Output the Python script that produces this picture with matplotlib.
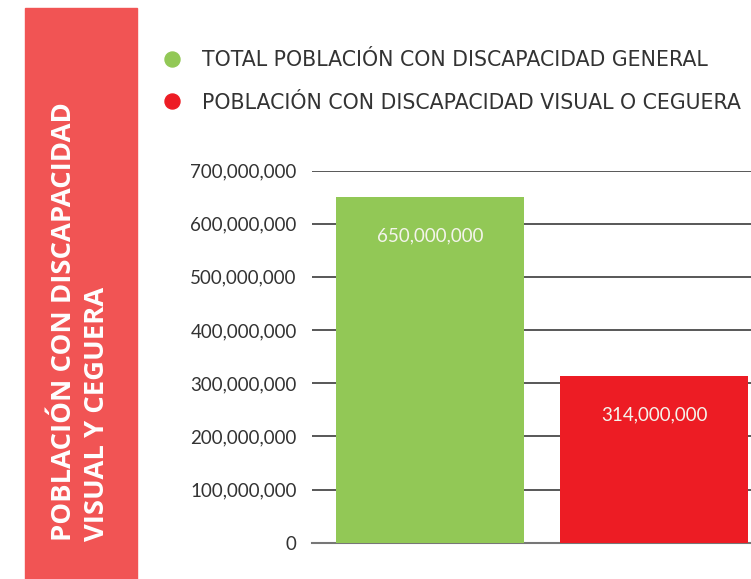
import matplotlib
matplotlib.use("Agg")
import matplotlib.pyplot as plt
from matplotlib.patches import Rectangle
from matplotlib.lines import Line2D

# datos
categorias = ["TOTAL POBLACIÓN CON DISCAPACIDAD GENERAL",
              "POBLACIÓN CON DISCAPACIDAD VISUAL O CEGUERA"]
valores = [650000000, 314000000]
colores = ["#92C856", "#ED1C24"]
titulo = "POBLACIÓN CON DISCAPACIDAD\nVISUAL Y CEGUERA"
ticks = [0, 100000000, 200000000, 300000000, 400000000,
         500000000, 600000000, 700000000]

plt.rcParams['font.family'] = ['Lato', 'DejaVu Sans']

W, H = 751, 579
fig = plt.figure(figsize=(W / 100, H / 100), dpi=100)

# bloque rojo con el título
fig.patches.append(Rectangle((25 / W, 0), 112 / W, 1 - 8 / H,
                             transform=fig.transFigure, color="#F15454", zorder=0))
fig.text(81 / W, 1 - 541 / H, titulo, rotation=90, color="white",
         family=["Open Sans", "DejaVu Sans"], fontsize=19.7, fontweight="bold",
         ha="center", va="bottom", multialignment="left", linespacing=1.35)

ax = fig.add_axes([312 / W, 1 - 542.7 / H, 1 - 312 / W, (542.7 - 170.5) / H])
x = list(range(len(valores)))
ax.bar(x, valores, width=0.843, color=colores, zorder=3)
ax.set_xlim(-0.527, 1.433)
ax.set_ylim(0, 700000000)
ax.set_yticks(ticks)
ax.set_yticklabels([f"{t:,}" for t in ticks], fontsize=13.5, color="#333333")
ax.tick_params(axis="y", length=0, pad=11)
ax.set_xticks([])
ax.grid(axis="y", color="#2a2a2a", linewidth=1.1, zorder=0)
for s in ["top", "right", "left"]:
    ax.spines[s].set_visible(False)
ax.spines["bottom"].set_color("#777777")
ax.spines["bottom"].set_linewidth(1.5)

for xi, v in zip(x, valores):
    ax.annotate(f"{v:,}", (xi, v), xytext=(0, -28), textcoords="offset points",
                ha="center", va="center", fontsize=13.5, color="#F4F4EC", zorder=4)

handles = [Line2D([], [], marker="o", linestyle="none", markersize=10.8,
                  markerfacecolor=c, markeredgecolor=c) for c in colores]
fig.legend(handles, categorias, loc="upper left", bbox_to_anchor=(163 / W, 1 - 50 / H),
           frameon=False, prop={"family": "DejaVu Sans", "size": 14.8}, labelcolor="#333333",
           handlelength=0.9, handletextpad=1.0, labelspacing=1.1, borderpad=0,
           borderaxespad=0)

plt.savefig("out.png", dpi=100)
